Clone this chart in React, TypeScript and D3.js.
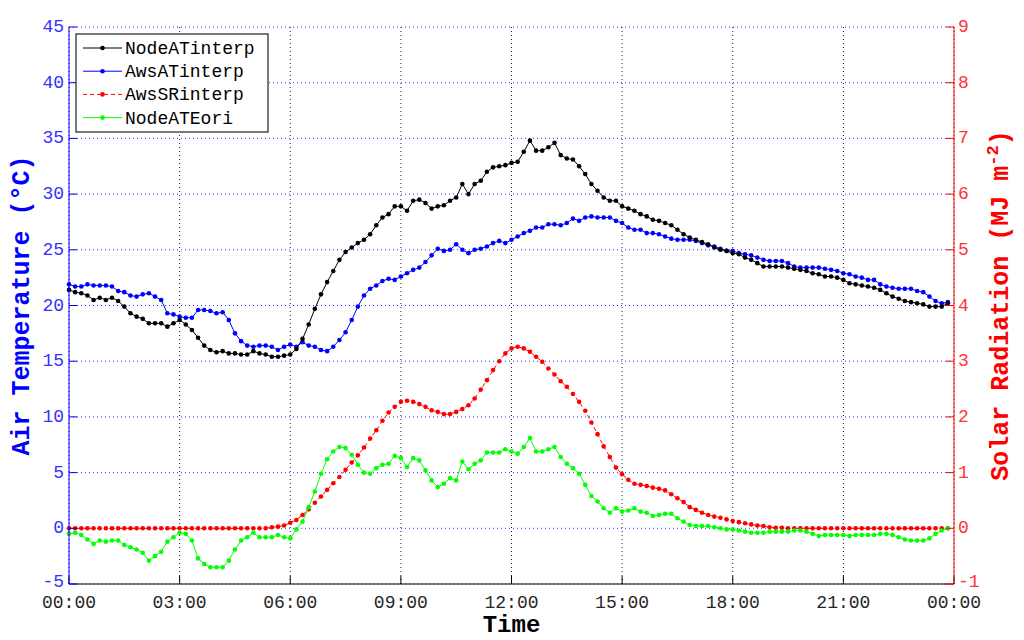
import React from 'react';
import * as d3 from 'd3';

// x axis: one reading every 10 minutes, 00:00 .. 23:50
const stepMinutes = 10;
const tickHours = [0, 3, 6, 9, 12, 15, 18, 21, 24];
const tickLabels = ['00:00', '03:00', '06:00', '09:00', '12:00', '15:00', '18:00', '21:00', '00:00'];
const tempTicks = [-5, 0, 5, 10, 15, 20, 25, 30, 35, 40, 45];
const radTicks = [-1, 0, 1, 2, 3, 4, 5, 6, 7, 8, 9];

// air temperature (°C)
const nodeATinterp = [
  21.4, 21.2, 21.1, 20.9, 20.5, 20.7, 20.5, 20.7, 20.4, 19.9,
  19.3, 19.0, 18.8, 18.4, 18.4, 18.4, 18.1, 18.4, 18.7, 18.3,
  17.8, 17.1, 16.4, 16.0, 15.8, 15.9, 15.7, 15.7, 15.6, 15.6,
  15.9, 15.7, 15.6, 15.4, 15.4, 15.5, 15.6, 16.1, 17.0, 18.3,
  19.7, 21.0, 22.1, 23.1, 24.1, 24.8, 25.2, 25.6, 25.9, 26.4,
  27.2, 27.9, 28.2, 28.9, 28.9, 28.5, 29.4, 29.5, 29.2, 28.7,
  28.9, 29.0, 29.4, 29.7, 30.9, 30.0, 30.9, 31.2, 32.0, 32.4,
  32.5, 32.6, 32.8, 32.9, 33.8, 34.8, 33.9, 33.9, 34.2, 34.6,
  33.5, 33.2, 33.1, 32.5, 31.8, 30.9, 30.3, 29.7, 29.4, 29.4,
  28.9, 28.7, 28.5, 28.2, 28.0, 27.7, 27.6, 27.4, 27.2, 26.8,
  26.4, 26.1, 25.9, 25.7, 25.5, 25.2, 25.0, 24.9, 24.7, 24.6,
  24.3, 24.1, 23.8, 23.5, 23.5, 23.5, 23.5, 23.4, 23.3, 23.2,
  23.1, 22.9, 22.8, 22.6, 22.6, 22.5, 22.3, 22.0, 21.9, 21.8,
  21.7, 21.6, 21.4, 21.1, 20.8, 20.6, 20.4, 20.3, 20.2, 20.1,
  19.9, 19.9, 19.9, 20.2,
];

const awsATinterp = [
  21.9, 21.7, 21.7, 21.9, 21.8, 21.8, 21.8, 21.7, 21.3, 21.2,
  20.9, 20.8, 21.0, 21.1, 20.8, 20.5, 19.3, 19.2, 19.0, 18.9,
  18.9, 19.6, 19.6, 19.5, 19.3, 19.4, 18.7, 17.5, 16.8, 16.4,
  16.3, 16.4, 16.4, 16.3, 16.0, 16.3, 16.5, 16.3, 16.7, 16.4,
  16.3, 16.0, 15.9, 16.3, 16.9, 17.6, 18.7, 19.9, 20.9, 21.5,
  21.8, 22.2, 22.4, 22.3, 22.6, 22.9, 23.2, 23.4, 23.9, 24.5,
  25.1, 24.9, 25.0, 25.5, 25.0, 24.7, 25.0, 25.1, 25.3, 25.6,
  25.8, 25.6, 25.9, 26.2, 26.5, 26.7, 27.0, 27.0, 27.3, 27.3,
  27.2, 27.4, 27.8, 27.6, 27.9, 28.0, 27.9, 27.9, 27.9, 27.6,
  27.4, 27.0, 26.8, 26.8, 26.5, 26.5, 26.4, 26.2, 26.0, 25.9,
  25.9, 25.9, 25.8, 25.6, 25.4, 25.3, 25.1, 24.9, 24.9, 24.7,
  24.6, 24.5, 24.3, 24.1, 24.0, 24.0, 24.0, 23.8, 23.5, 23.4,
  23.4, 23.4, 23.4, 23.3, 23.2, 23.1, 22.9, 22.8, 22.6, 22.5,
  22.3, 22.3, 21.9, 21.7, 21.6, 21.5, 21.5, 21.5, 21.3, 21.2,
  20.8, 20.4, 20.2, 20.3,
];

// solar radiation (MJ m-2)
const awsSRinterp = [
  0, 0, 0, 0, 0, 0, 0, 0, 0, 0,
  0, 0, 0, 0, 0, 0, 0, 0, 0, 0,
  0, 0, 0, 0, 0, 0, 0, 0, 0, 0,
  0, 0, 0, 0.02, 0.03, 0.05, 0.10, 0.15, 0.24, 0.34,
  0.46, 0.57, 0.69, 0.81, 0.92, 1.05, 1.18, 1.31, 1.45, 1.61,
  1.76, 1.93, 2.08, 2.18, 2.27, 2.29, 2.27, 2.23, 2.18, 2.12,
  2.09, 2.05, 2.05, 2.09, 2.14, 2.21, 2.33, 2.49, 2.66, 2.84,
  3.00, 3.14, 3.23, 3.26, 3.23, 3.17, 3.08, 2.99, 2.87, 2.76,
  2.64, 2.54, 2.41, 2.27, 2.11, 1.90, 1.69, 1.47, 1.28, 1.09,
  0.97, 0.87, 0.80, 0.78, 0.76, 0.73, 0.71, 0.68, 0.61, 0.54,
  0.47, 0.38, 0.33, 0.28, 0.24, 0.21, 0.19, 0.16, 0.13, 0.11,
  0.09, 0.07, 0.05, 0.04, 0.02, 0.01, 0.01, 0, 0, 0,
  0, 0, 0, 0, 0, 0, 0, 0, 0, 0,
  0, 0, 0, 0, 0, 0, 0, 0, 0, 0,
  0, 0, 0, 0,
];

const nodeATEori = [
  -0.5, -0.4, -0.6, -1.0, -1.4, -1.1, -1.2, -1.1, -1.1, -1.5,
  -1.7, -1.9, -2.2, -2.9, -2.5, -2.1, -1.2, -0.8, -0.4, -0.5,
  -1.1, -2.7, -3.2, -3.5, -3.5, -3.5, -2.9, -1.9, -1.1, -0.8,
  -0.4, -0.8, -0.8, -0.8, -0.6, -0.8, -0.9, -0.1, 0.6, 1.9,
  3.3, 4.9, 6.2, 6.9, 7.3, 7.2, 6.6, 5.7, 5.0, 4.9,
  5.4, 5.7, 5.8, 6.5, 6.3, 5.5, 6.3, 6.1, 5.2, 4.3,
  3.7, 4.0, 4.5, 4.3, 6.0, 5.3, 5.8, 6.1, 6.8, 6.8,
  6.8, 7.1, 6.9, 6.7, 7.3, 8.1, 6.9, 6.9, 7.1, 7.3,
  6.4, 5.8, 5.4, 4.9, 3.9, 2.9, 2.4, 1.8, 1.4, 1.8,
  1.5, 1.6, 1.8, 1.5, 1.4, 1.1, 1.2, 1.3, 1.3, 0.9,
  0.6, 0.3, 0.2, 0.2, 0.2, 0.1, 0.0, -0.1, -0.1, -0.2,
  -0.3, -0.4, -0.4, -0.4, -0.3, -0.3, -0.3, -0.3, -0.2, -0.2,
  -0.3, -0.5, -0.7, -0.6, -0.6, -0.6, -0.6, -0.7, -0.6, -0.6,
  -0.6, -0.6, -0.5, -0.5, -0.6, -0.8, -1.0, -1.1, -1.1, -1.1,
  -0.9, -0.5, -0.2, 0.0,
];

const mono = '"Liberation Mono", "DejaVu Sans Mono", monospace';

export default function App() {
  const W = 1024;
  const H = 640;
  const left = 69, right = 954, top = 27, bottom = 584;

  const x = d3.scaleLinear().domain([0, 24 * 60]).range([left, right]);
  const yT = d3.scaleLinear().domain([-5, 45]).range([bottom, top]);
  const yS = d3.scaleLinear().domain([-1, 9]).range([bottom, top]);

  const series = [
    { name: 'NodeATinterp', data: nodeATinterp, y: yT, color: '#000000', dash: null },
    { name: 'AwsATinterp', data: awsATinterp, y: yT, color: '#0000ff', dash: null },
    { name: 'AwsSRinterp', data: awsSRinterp, y: yS, color: '#ff0000', dash: '4 3' },
    { name: 'NodeATEori', data: nodeATEori, y: yT, color: '#00ff00', dash: null },
  ];

  const drawOrder = [2, 3, 1, 0];

  return (
    <svg width={W} height={H} style={{ position: 'absolute', left: 0, top: 0, background: '#fff' }}>
      {/* horizontal grid (left axis) */}
      {tempTicks.map((t) => (
        <line key={'hg' + t} x1={left} x2={right} y1={yT(t)} y2={yT(t)}
          stroke="#3333ff" strokeWidth={1} strokeDasharray="1 3" />
      ))}
      {/* vertical grid */}
      {tickHours.map((h) => (
        <line key={'vg' + h} x1={x(h * 60)} x2={x(h * 60)} y1={top} y2={bottom}
          stroke="#222" strokeWidth={1} strokeDasharray="1 3" />
      ))}

      {/* series */}
      {drawOrder.map((k) => {
        const s = series[k];
        const line = d3.line<number>()
          .x((_, i) => x(i * stepMinutes))
          .y((d) => s.y(d));
        return (
          <g key={s.name}>
            <path d={line(s.data) || ''} fill="none" stroke={s.color} strokeWidth={1}
              strokeDasharray={s.dash || undefined} />
            {s.data.map((d, i) => (
              <circle key={i} cx={x(i * stepMinutes)} cy={s.y(d)} r={2.3} fill={s.color} />
            ))}
          </g>
        );
      })}

      {/* bottom axis */}
      <line x1={left} x2={right} y1={bottom} y2={bottom} stroke="#000" strokeWidth={1} />
      {tickHours.map((h, i) => (
        <g key={'xt' + i}>
          <line x1={x(h * 60)} x2={x(h * 60)} y1={bottom} y2={bottom - 8} stroke="#000" />
          <text x={x(h * 60)} y={bottom + 24} textAnchor="middle" fontFamily={mono}
            fontSize={18} fill="#262626">{tickLabels[i]}</text>
        </g>
      ))}
      <text x={(left + right) / 2} y={bottom + 48} textAnchor="middle" fontFamily={mono}
        fontSize={24} fontWeight="bold" fill="#000">Time</text>

      {/* left axis */}
      <line x1={left} x2={left} y1={top} y2={bottom} stroke="#0000ff" strokeWidth={1} />
      {tempTicks.map((t) => (
        <g key={'lt' + t}>
          <line x1={left} x2={left + 8} y1={yT(t)} y2={yT(t)} stroke="#0000ff" />
          <text x={left - 5} y={yT(t) + (t === -5 ? 3 : 5)} textAnchor="end" fontFamily={mono}
            fontSize={18} fill="#3333ff">{t}</text>
        </g>
      ))}
      <text transform={`translate(29,${(top + bottom) / 2}) rotate(-90)`} textAnchor="middle"
        fontFamily={mono} fontSize={25} fontWeight="bold" fill="#0000ff">Air Temperature (°C)</text>

      {/* right axis */}
      <line x1={right} x2={right} y1={top} y2={bottom} stroke="#ff0000" strokeWidth={1} />
      {radTicks.map((t) => (
        <g key={'rt' + t}>
          <line x1={right} x2={right - 8} y1={yS(t)} y2={yS(t)} stroke="#ff0000" />
          <text x={right + 4} y={yS(t) + (t === -1 ? 3 : 5)} textAnchor="start" fontFamily={mono}
            fontSize={18} fill="#ff3333">{t}</text>
        </g>
      ))}
      <text transform={`translate(1008,${(top + bottom) / 2}) rotate(-90)`} textAnchor="middle"
        fontFamily={mono} fontSize={25} fontWeight="bold" fill="#ff0000">
        Solar Radiation (MJ m<tspan dy={-10} fontSize={17}>-2</tspan><tspan dy={10}>)</tspan>
      </text>

      {/* legend */}
      <rect x={76} y={34} width={192} height={98} fill="#fff" stroke="#222" strokeWidth={1.2} />
      {series.map((s, i) => {
        const ly = 48 + i * 23.2;
        return (
          <g key={'lg' + s.name}>
            <line x1={83} x2={122} y1={ly} y2={ly} stroke={s.color} strokeWidth={1}
              strokeDasharray={s.dash || undefined} />
            <circle cx={102.5} cy={ly} r={2.3} fill={s.color} />
            <text x={125} y={ly + 6} fontFamily={mono} fontSize={18} fill="#000">{s.name}</text>
          </g>
        );
      })}
    </svg>
  );
}
